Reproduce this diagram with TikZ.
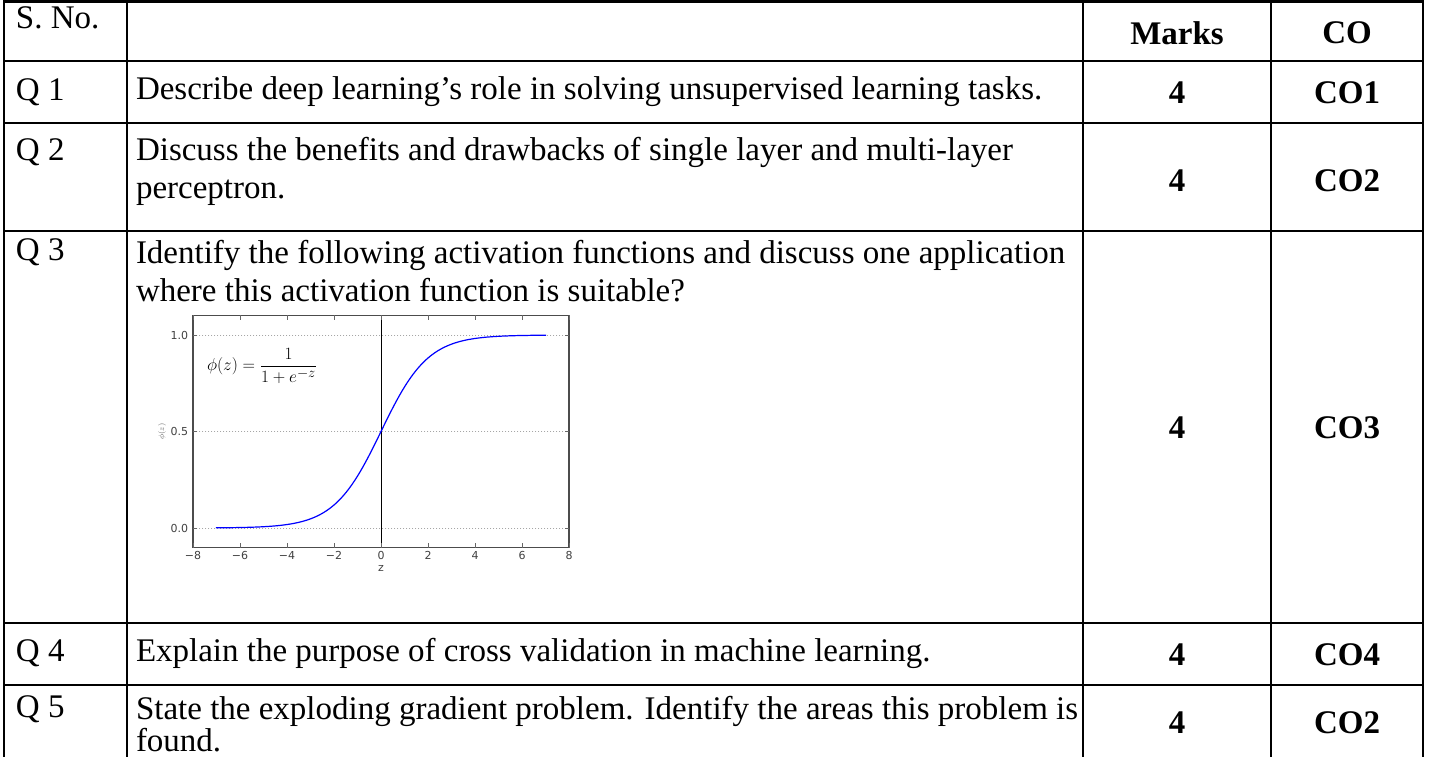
\documentclass[tikz,border=0pt]{standalone}
\usepackage{fontspec}
\setmainfont{Liberation Serif}
\newfontfamily\plotfont{DejaVu Sans}
\usepackage{amsmath}
\usepackage{tikz}
\usetikzlibrary{arrows}

\begin{document}
\begin{tikzpicture}[line cap=rect,line join=miter,x=1pt,y=-1pt,
  every node/.style={inner sep=0pt,outer sep=0pt},
  cell/.style={anchor=west,font=\fontsize{33}{38}\selectfont,align=left},
  markcell/.style={font=\fontsize{33}{38}\selectfont\bfseries},
  rule/.style={line width=2.6pt},
  ticklab/.style={font=\plotfont\fontsize{11}{13}\selectfont,text=black!75}]
\useasboundingbox (0,0) rectangle (1429,757);
% table rules
\draw[rule] (4,1.5)--(1423,1.5);
\draw[rule] (4,61)--(1423,61);
\draw[rule] (4,123)--(1423,123);
\draw[rule] (4,231)--(1423,231);
\draw[rule] (4,623)--(1423,623);
\draw[rule] (4,685)--(1423,685);
\draw[rule] (4,0)--(4,757);
\draw[rule] (127,0)--(127,757);
\draw[rule] (1083,0)--(1083,757);
\draw[rule] (1271,0)--(1271,757);
\draw[rule] (1423,0)--(1423,757);
% header
\node[cell] (sno) at (16,18) {S. No.};
\node[markcell] (marks) at (1177,33) {Marks};
\node[markcell] (co) at (1347,33) {CO};
% first column
\node[cell] (q1) at (16,92) {Q 1};
\node[cell] (q2) at (16,152) {Q 2};
\node[cell] (q3) at (16,252) {Q 3};
\node[cell] (q4) at (16,653) {Q 4};
\node[cell] (q5) at (16,709) {Q 5};
% questions
\node[cell] (t1) at (136,92) {Describe deep learning’s role in solving unsupervised learning tasks.};
\node[cell] (t2) at (136,171) {Discuss the benefits and drawbacks of single layer and multi-layer\\perceptron.};
\node[cell] (t3) at (136,271) {Identify the following activation functions and discuss one application\\where this activation function is suitable?};
\node[cell] (t4) at (136,653) {Explain the purpose of cross validation in machine learning.};
\node[cell,font=\fontsize{33}{32}\selectfont] (t5) at (136,724) {State the exploding gradient problem. Identify the areas this problem is\\found.};
% marks and CO
\node[markcell] (m1) at (1177,93) {4};
\node[markcell] (c1) at (1347,93) {CO1};
\node[markcell] (m2) at (1177,181) {4};
\node[markcell] (c2) at (1347,181) {CO2};
\node[markcell] (m3) at (1177,428) {4};
\node[markcell] (c3) at (1347,428) {CO3};
\node[markcell] (m4) at (1177,655) {4};
\node[markcell] (c4) at (1347,655) {CO4};
\node[markcell] (m5) at (1177,723) {4};
\node[markcell] (c5) at (1347,723) {CO2};
% sigmoid plot
\begin{scope}[shift={(381,528)},x=23.5pt,y=193pt]
\foreach \v in {0,0.5,1}
  \draw[black!35,line width=0.8pt,dash pattern=on 1pt off 2pt] (-8,\v)--(8,\v);
\draw[black,line width=1pt] (0,-0.1)--(0,1.1);
\draw[blue,line width=1.2pt,domain=-7:7,samples=120] plot (\x,{1/(1+exp(-\x))});
\draw[black!70,line width=1.4pt] (-8,-0.1) rectangle (8,1.1);
\foreach \t [count=\i] in {-8,-6,...,8} {
  \draw[black!60,line width=0.7pt] (\t,-0.1)--++(0pt,4pt);
  \draw[black!60,line width=0.7pt] (\t,1.1)--++(0pt,-4pt);
  \node[ticklab,anchor=north] (xt\i) at ([yshift=-4pt]\t,-0.1) {\ifnum\t<0 −\the\numexpr-\t\relax\else\t\fi};
}
\foreach \v/\l [count=\i] in {0/0.0,0.5/0.5,1/1.0} {
  \draw[black!60,line width=0.7pt] (-8,\v)--++(4pt,0pt);
  \draw[black!60,line width=0.7pt] (8,\v)--++(-4pt,0pt);
  \node[ticklab,anchor=east] (yt\i) at ([xshift=-5pt]-8,\v) {\l};
}
\node[ticklab,anchor=north] (zlab) at ([yshift=-18pt]0,-0.1) {z};
\node[text=black!60,rotate=90,font=\fontsize{8}{9}\selectfont] (philab) at ([xshift=-31pt]-8,0.5) {$\phi(z)$};
\end{scope}
\node[anchor=west,font=\fontsize{19}{22}\selectfont] (formula) at (207,366) {$\phi(z) = \dfrac{1}{1+e^{-z}}$};
\end{tikzpicture}
\end{document}
